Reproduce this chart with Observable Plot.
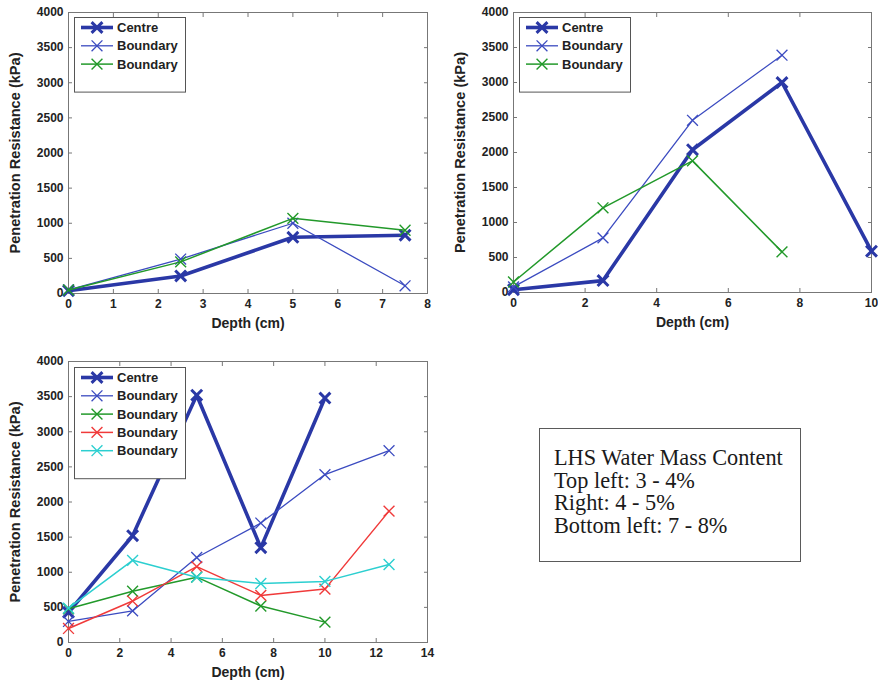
<!DOCTYPE html>
<html>
<head>
<meta charset="utf-8">
<script src="https://cdn.jsdelivr.net/npm/d3@7"></script>
<script src="https://cdn.jsdelivr.net/npm/@observablehq/plot@0.6"></script>
<style>
  html, body { margin: 0; padding: 0; background: #fff; }
  #fig { position: relative; width: 878px; height: 685px; overflow: hidden; }
  .panel { position: absolute; }
  .panel svg { overflow: visible; }
  .legend { position: absolute; }
  .note {
    position: absolute; left: 539px; top: 428px; width: 262px; height: 134px;
    box-sizing: border-box; border: 1px solid #5a5a5a; background: #fff;
    padding: 18px 0 0 14px;
    font-family: "Liberation Serif", "Times New Roman", serif; font-size: 22.3px;
    line-height: 22.7px; color: #1a1a1a;
  }
</style>
</head>
<body>
<div id="fig"></div>
<script>
// Penetration resistance profiles (kPa) against depth (cm)
const yTicks = [0, 500, 1000, 1500, 2000, 2500, 3000, 3500, 4000];

// Top left panel: 3 - 4 % water mass content
const depthTL = [0, 2.5, 5, 7.5];
const xTicksTL = [0, 1, 2, 3, 4, 5, 6, 7, 8];
const tlCentre = [40, 250, 800, 830];
const tlBoundaryBlue = [50, 490, 1000, 110];
const tlBoundaryGreen = [50, 450, 1070, 900];

// Right panel: 4 - 5 %
const depthTR = [0, 2.5, 5, 7.5, 10];
const xTicksTR = [0, 2, 4, 6, 8, 10];
const trCentre = [40, 170, 2040, 3000, 590];
const trBoundaryBlue = [80, 780, 2460, 3390];
const trBoundaryGreen = [150, 1210, 1880, 580];

// Bottom left panel: 7 - 8 %
const depthBL = [0, 2.5, 5, 7.5, 10, 12.5];
const xTicksBL = [0, 2, 4, 6, 8, 10, 12, 14];
const blCentre = [430, 1520, 3520, 1350, 3480];
const blBoundaryBlue = [300, 450, 1210, 1700, 2390, 2730];
const blBoundaryGreen = [480, 730, 930, 520, 290];
const blBoundaryRed = [200, 590, 1080, 670, 760, 1870];
const blBoundaryCyan = [490, 1170, 930, 840, 870, 1110];

const seriesNames = ["Centre", "Boundary", "Boundary", "Boundary", "Boundary"];
const noteLines = ["LHS Water Mass Content", "Top left: 3 - 4%", "Right: 4 - 5%", "Bottom left: 7 - 8%"];

// line styles
const centreStyle = {color: "#2a38a6", width: 3.6, markerWidth: 3};
const blueStyle = {color: "#3b4bc0", width: 1.3, markerWidth: 1.3};
const greenStyle = {color: "#22992a", width: 1.5, markerWidth: 1.4};
const redStyle = {color: "#f03a3a", width: 1.5, markerWidth: 1.4};
const cyanStyle = {color: "#2ccfd0", width: 1.5, markerWidth: 1.4};

const fig = document.getElementById("fig");
const plain = (d) => String(d);

function rowsOf(depth, values) {
  return values.map((v, i) => ({depth: depth[i], kpa: v}));
}

function panel({left, top, width, height, margin, xDomain, xTicks, series, legend}) {
  const marks = [
    Plot.frame({stroke: "#777"}),
    Plot.axisY({ticks: yTicks, tickFormat: plain, tickSize: -4, tickPadding: 9, label: null, stroke: "#777", fill: "#222"}),
    Plot.axisY({anchor: "right", ticks: yTicks, tickSize: -4, tickFormat: () => "", label: null, stroke: "#777"}),
    Plot.axisX({ticks: xTicks, tickFormat: plain, tickSize: -4, tickPadding: 10, label: null, stroke: "#777", fill: "#222"}),
    Plot.axisX({anchor: "top", ticks: xTicks, tickSize: -4, tickFormat: () => "", label: null, stroke: "#777"}),
    Plot.text(["Depth (cm)"], {frameAnchor: "bottom", textAnchor: "middle", lineAnchor: "middle", dy: 30, fontSize: 14, fill: "#222"}),
    Plot.text(["Penetration Resistance (kPa)"], {frameAnchor: "left", textAnchor: "middle", lineAnchor: "middle", rotate: -90, dx: -53, fontSize: 14.6, fill: "#222"})
  ];
  for (const s of series) {
    const rows = rowsOf(s.depth, s.values);
    marks.push(Plot.line(rows, {x: "depth", y: "kpa", stroke: s.style.color, strokeWidth: s.style.width}));
    marks.push(Plot.dot(rows, {x: "depth", y: "kpa", symbol: "times", r: 5, stroke: s.style.color, strokeWidth: s.style.markerWidth}));
  }
  const chart = Plot.plot({
    width, height,
    marginLeft: margin[3], marginRight: margin[1], marginTop: margin[0], marginBottom: margin[2],
    x: {domain: xDomain},
    y: {domain: [0, 4000]},
    style: {fontFamily: "'Liberation Sans', Arial, sans-serif", fontSize: "12px", fontWeight: "bold", background: "transparent"},
    marks
  });
  const wrap = document.createElement("div");
  wrap.className = "panel";
  wrap.style.left = left + "px";
  wrap.style.top = top + "px";
  wrap.appendChild(chart);
  fig.appendChild(wrap);

  // legend box in the upper left corner of the axes
  const step = 18.3;
  const lw = 111, lh = 21 + step * (series.length - 1) + 17;
  const div = document.createElement("div");
  div.className = "legend";
  div.style.left = legend[0] + "px";
  div.style.top = legend[1] + "px";
  fig.appendChild(div);
  const svg = d3.select(div).append("svg").attr("width", lw + 2).attr("height", lh + 2);
  svg.append("rect").attr("x", 0.5).attr("y", 0.5).attr("width", lw).attr("height", lh)
    .attr("fill", "#fff").attr("stroke", "#555");
  const times = d3.symbol(d3.symbolTimes, 5 * 5 * Math.PI)();
  series.forEach((s, i) => {
    const g = svg.append("g").attr("transform", `translate(0,${10.5 + step * i})`);
    g.append("line").attr("x1", 7).attr("x2", 39).attr("stroke", s.style.color).attr("stroke-width", s.style.width);
    g.append("path").attr("d", times).attr("transform", "translate(23,0)")
      .attr("fill", "none").attr("stroke", s.style.color).attr("stroke-width", s.style.markerWidth);
    g.append("text").attr("x", 43).attr("dy", "0.35em").text(s.name)
      .attr("font-family", "'Liberation Sans', Arial, sans-serif").attr("font-size", 13)
      .attr("font-weight", "bold").attr("fill", "#222");
  });
}

panel({
  left: 0, top: 0, width: 440, height: 340, margin: [12, 13, 47, 68],
  xDomain: [0, 8], xTicks: xTicksTL, legend: [74, 17],
  series: [
    {name: seriesNames[0], depth: depthTL, values: tlCentre, style: centreStyle},
    {name: seriesNames[1], depth: depthTL, values: tlBoundaryBlue, style: blueStyle},
    {name: seriesNames[2], depth: depthTL, values: tlBoundaryGreen, style: greenStyle}
  ]
});

panel({
  left: 440, top: 0, width: 438, height: 340, margin: [12, 7, 48, 73],
  xDomain: [0, 10], xTicks: xTicksTR, legend: [519, 17],
  series: [
    {name: seriesNames[0], depth: depthTR, values: trCentre, style: centreStyle},
    {name: seriesNames[1], depth: depthTR, values: trBoundaryBlue, style: blueStyle},
    {name: seriesNames[2], depth: depthTR, values: trBoundaryGreen, style: greenStyle}
  ]
});

panel({
  left: 0, top: 340, width: 440, height: 345, margin: [21, 13, 43, 68],
  xDomain: [0, 14], xTicks: xTicksBL, legend: [74, 367],
  series: [
    {name: seriesNames[0], depth: depthBL, values: blCentre, style: centreStyle},
    {name: seriesNames[1], depth: depthBL, values: blBoundaryBlue, style: blueStyle},
    {name: seriesNames[2], depth: depthBL, values: blBoundaryGreen, style: greenStyle},
    {name: seriesNames[3], depth: depthBL, values: blBoundaryRed, style: redStyle},
    {name: seriesNames[4], depth: depthBL, values: blBoundaryCyan, style: cyanStyle}
  ]
});

// water content note
const note = document.createElement("div");
note.className = "note";
note.innerHTML = noteLines.map(t => `<div>${t}</div>`).join("");
fig.appendChild(note);
</script>
</body>
</html>
